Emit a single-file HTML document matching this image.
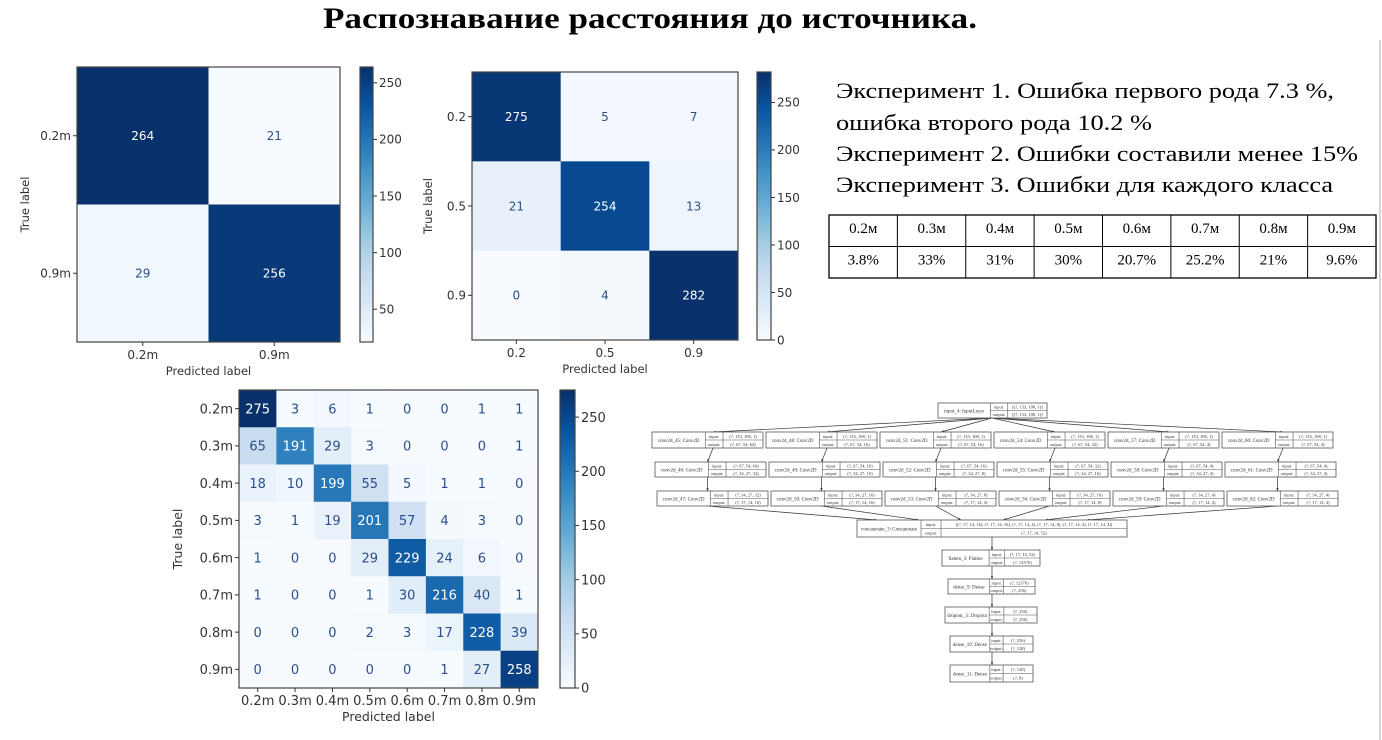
<!DOCTYPE html>
<html><head><meta charset="utf-8">
<style>
html,body{margin:0;padding:0;background:#fff;}
svg{display:block;}
.t{font-family:"Liberation Serif",serif;}
.s{font-family:"DejaVu Sans","Liberation Sans",sans-serif;}
</style></head>
<body>
<svg id="root" width="1382" height="740" viewBox="0 0 1382 740" xmlns="http://www.w3.org/2000/svg">
<text class="t" x="323" y="28" font-size="30" font-weight="bold" textLength="654" lengthAdjust="spacingAndGlyphs">Распознавание расстояния до источника.</text>
<line x1="1380" y1="40" x2="1380" y2="740" stroke="#c8c8c8" stroke-width="1.5"/>
<g class="t" font-size="22" fill="#000">
<text x="836" y="98" textLength="498" lengthAdjust="spacingAndGlyphs">Эксперимент 1. Ошибка первого рода 7.3 %,</text>
<text x="836" y="130" textLength="316" lengthAdjust="spacingAndGlyphs">ошибка второго рода 10.2 %</text>
<text x="836" y="161" textLength="522" lengthAdjust="spacingAndGlyphs">Эксперимент 2. Ошибки составили менее 15%</text>
<text x="836" y="192" textLength="497" lengthAdjust="spacingAndGlyphs">Эксперимент 3. Ошибки для каждого класса</text>
</g>
<g id="tbl"></g>
<g id="cm1"></g>
<g id="cm2"></g>
<g id="cm3"></g>
<g id="net"></g>
</svg>
<script>
const NS="http://www.w3.org/2000/svg";
const tableHeaders=["0.2м","0.3м","0.4м","0.5м","0.6м","0.7м","0.8м","0.9м"];
const tableValues=["3.8%","33%","31%","30%","20.7%","25.2%","21%","9.6%"];
const cm1Labels=["0.2m","0.9m"];
const cm1Values=[[264,21],[29,256]];
const cm1Ticks=[50,100,150,200,250];
const cm2Labels=["0.2","0.5","0.9"];
const cm2Values=[[275,5,7],[21,254,13],[0,4,282]];
const cm2Ticks=[0,50,100,150,200,250];
const cm3Labels=["0.2m","0.3m","0.4m","0.5m","0.6m","0.7m","0.8m","0.9m"];
const cm3Values=[
[275,3,6,1,0,0,1,1],
[65,191,29,3,0,0,0,1],
[18,10,199,55,5,1,1,0],
[3,1,19,201,57,4,3,0],
[1,0,0,29,229,24,6,0],
[1,0,0,1,30,216,40,1],
[0,0,0,2,3,17,228,39],
[0,0,0,0,0,1,27,258]];
const cm3Ticks=[0,50,100,150,200,250];

function el(tag,attrs,parent,txt){const e=document.createElementNS(NS,tag);for(const k in attrs)e.setAttribute(k,attrs[k]);if(txt!==undefined)e.textContent=txt;parent.appendChild(e);return e;}
const stops=[[247,251,255],[222,235,247],[198,219,239],[158,202,225],[107,174,214],[66,146,198],[33,113,181],[8,81,156],[8,48,107]];
function blues(t){t=Math.max(0,Math.min(1,t));const p=t*8,i=Math.min(7,Math.floor(p)),f=p-i;const a=stops[i],b=stops[i+1];return `rgb(${a.map((v,k)=>Math.round(v+(b[k]-v)*f)).join(",")})`;}

// table
(function(){
  const g=document.getElementById('tbl');
  const x0=829,y0=215,w=547,rh=31.5,cw=w/8;
  const r=el('rect',{x:x0,y:y0,width:w,height:rh*2,fill:'#fff',stroke:'#000','stroke-width':1.3},g);
  
  const hl=el('line',{x1:x0,y1:y0+rh,x2:x0+w,y2:y0+rh,stroke:'#000'},g);
  
  for(let i=0;i<8;i++){
    if(i>0){const l=el('line',{x1:x0+i*cw,y1:y0,x2:x0+i*cw,y2:y0+rh*2,stroke:'#000'},g);
      }
    const h=el('text',{x:x0+i*cw+cw/2,y:y0+18,'text-anchor':'middle','font-size':15,class:'t'},g,tableHeaders[i]);
    
    const v=el('text',{x:x0+i*cw+cw/2,y:y0+rh+18,'text-anchor':'middle','font-size':15,class:'t'},g,tableValues[i]);
    
  }
})();

function drawCM(id,labels,vals,ticks,box,cb,fs){
  const g=document.getElementById(id);
  const n=labels.length;
  const flat=vals.flat();const mn=Math.min(...flat),mx=Math.max(...flat);
  const cw=(box.x1-box.x0)/n,ch=(box.y1-box.y0)/n;
  const xs=i=>box.x0+i*cw, ys=i=>box.y0+i*ch;
  for(let r=0;r<n;r++)for(let c=0;c<n;c++){
    const v=vals[r][c];
    const cell=el('rect',{x:xs(c),y:ys(r),width:cw+0.5,height:ch+0.5,fill:blues((v-mn)/(mx-mn))},g);
    
    const tx=el('text',{x:xs(c)+cw/2,y:ys(r)+ch/2+fs*0.36,'text-anchor':'middle','font-size':fs,class:'s',fill:v>(mn+mx)/2?'#fff':'#2b4f8a'},g,String(v));
    
  }
  const fr=el('rect',{x:box.x0,y:box.y0,width:box.x1-box.x0,height:box.y1-box.y0,fill:'none',stroke:'#444','stroke-width':1.2},g);
  
  for(let i=0;i<n;i++){
    const cx=xs(i)+cw/2,cy=ys(i)+ch/2;
    el('line',{x1:cx,y1:box.y1,x2:cx,y2:box.y1+4,stroke:'#333'},g);
    const xl=el('text',{x:cx,y:box.y1+17,'text-anchor':'middle','font-size':fs,class:'s',fill:'#333'},g,labels[i]);
    
    el('line',{x1:box.x0-4,y1:cy,x2:box.x0,y2:cy,stroke:'#333'},g);
    const yl=el('text',{x:box.x0-6,y:cy+fs*0.36,'text-anchor':'end','font-size':fs,class:'s',fill:'#333'},g,labels[i]);
    
  }
  const xt=el('text',{x:(box.x0+box.x1)/2,y:box.y1+33,'text-anchor':'middle','font-size':fs-0.5,class:'s',fill:'#333'},g,'Predicted label');
  
  const yx=box.yt,yy=(box.y0+box.y1)/2;
  const yt=el('text',{x:yx,y:yy,'text-anchor':'middle','font-size':fs-0.5,class:'s',fill:'#333',transform:`rotate(-90 ${yx} ${yy})`},g,'True label');
  
  // colorbar
  const gid=id+'grad';
  const defs=el('defs',{},g);const lg=el('linearGradient',{id:gid,x1:0,y1:1,x2:0,y2:0},defs);
  for(let k=0;k<=8;k++)el('stop',{offset:k/8,'stop-color':blues(k/8)},lg);
  const cbr=el('rect',{x:cb.x0,y:box.y0,width:cb.x1-cb.x0,height:box.y1-box.y0,fill:`url(#${gid})`,stroke:'#444','stroke-width':1.2},g);
  
  const cy=v=>box.y1-(v-mn)/(mx-mn)*(box.y1-box.y0);
  ticks.forEach(t=>{
    el('line',{x1:cb.x1,y1:cy(t),x2:cb.x1+4,y2:cy(t),stroke:'#333'},g);
    const tl=el('text',{x:cb.x1+6,y:cy(t)+fs*0.36,'font-size':fs,class:'s',fill:'#333'},g,String(t));
    
  });
}
drawCM('cm1',cm1Labels,cm1Values,cm1Ticks,{x0:77,x1:340,y0:67,y1:342,yt:29},{x0:360,x1:373},12);
drawCM('cm2',cm2Labels,cm2Values,cm2Ticks,{x0:472,x1:738,y0:72,y1:340,yt:432},{x0:757,x1:771},12);
drawCM('cm3',cm3Labels,cm3Values,cm3Ticks,{x0:239,x1:538,y0:390,y1:688,yt:182},{x0:560,x1:575},13);

// network diagram
(function(){
  const g=document.getElementById('net');
  function box(x,y,w,h,name,inp,out){
    const b=el('g',{},g);
    
    el('rect',{x:x,y:y,width:w,height:h,fill:'#fff',stroke:'#555','stroke-width':0.8},b);
    const nw=w*0.48,lw=w*0.16;
    el('line',{x1:x+nw,y1:y,x2:x+nw,y2:y+h,stroke:'#555','stroke-width':0.6},b);
    el('line',{x1:x+nw+lw,y1:y,x2:x+nw+lw,y2:y+h,stroke:'#555','stroke-width':0.6},b);
    el('line',{x1:x+nw,y1:y+h/2,x2:x+w,y2:y+h/2,stroke:'#555','stroke-width':0.6},b);
    el('text',{x:x+nw/2,y:y+h/2+1.8,'text-anchor':'middle','font-size':5,class:'t',fill:'#333'},b,name);
    el('text',{x:x+nw+lw/2,y:y+h/4+1.8,'text-anchor':'middle','font-size':4.5,class:'t',fill:'#333'},b,'input:');
    el('text',{x:x+nw+lw/2,y:y+3*h/4+1.8,'text-anchor':'middle','font-size':4.5,class:'t',fill:'#333'},b,'output:');
    el('text',{x:x+nw+lw+(w-nw-lw)/2,y:y+h/4+1.8,'text-anchor':'middle','font-size':4.5,class:'t',fill:'#333'},b,inp);
    el('text',{x:x+nw+lw+(w-nw-lw)/2,y:y+3*h/4+1.8,'text-anchor':'middle','font-size':4.5,class:'t',fill:'#333'},b,out);
  }
  function arrow(x1,y1,x2,y2){
    const a=el('line',{x1,y1,x2,y2,stroke:'#333','stroke-width':0.7},g);
    
    const ang=Math.atan2(y2-y1,x2-x1),s=3;
    el('polygon',{points:`${x2},${y2} ${x2-s*Math.cos(ang-0.4)},${y2-s*Math.sin(ang-0.4)} ${x2-s*Math.cos(ang+0.4)},${y2-s*Math.sin(ang+0.4)}`,fill:'#333'},g);
  }
  const filt=[[64,32,16],[16,16,16],[16,8,4],[32,16,8],[4,4,4],[4,4,4]];
  const bx=[652,766,880,994,1108,1222];
  const bw=111;
  const concat={x:857,y:520,w:270,h:17};
  bx.forEach((x,i)=>{
    arrow(992,418,x+bw*0.55,432);
    arrow(x+bw*0.55,448,x+bw*0.5,462);
    arrow(x+bw*0.5,477,x+bw*0.5,491);
    arrow(x+bw*0.5,506,concat.x+20+i*42,520);
  });
  box(938,403,109,15,'input_4: InputLayer','[(?, 133, 108, 1)]','[(?, 133, 108, 1)]');
  let n=45;
  bx.forEach((x,i)=>{
    const f=filt[i];
    box(x,432,bw,16,`conv2d_${n}: Conv2D`,'(?, 133, 108, 1)',`(?, 67, 54, ${f[0]})`);
    box(x+3,462,bw,15,`conv2d_${n+1}: Conv2D`,`(?, 67, 54, ${f[0]})`,`(?, 34, 27, ${f[1]})`);
    box(x+5,491,bw,15,`conv2d_${n+2}: Conv2D`,`(?, 34, 27, ${f[1]})`,`(?, 17, 14, ${f[2]})`);
    n+=3;
  });
  // concat box
  (function(){
    const c=el('g',{},g);
    const {x,y,w,h}=concat;
    el('rect',{x,y,width:w,height:h,fill:'#fff',stroke:'#555','stroke-width':0.8},c);
    el('line',{x1:x+64,y1:y,x2:x+64,y2:y+h,stroke:'#555','stroke-width':0.6},c);
    el('line',{x1:x+84,y1:y,x2:x+84,y2:y+h,stroke:'#555','stroke-width':0.6},c);
    el('line',{x1:x+64,y1:y+h/2,x2:x+w,y2:y+h/2,stroke:'#555','stroke-width':0.6},c);
    el('text',{x:x+32,y:y+h/2+1.8,'text-anchor':'middle','font-size':5,class:'t',fill:'#333'},c,'concatenate_3: Concatenate');
    el('text',{x:x+74,y:y+h/4+1.8,'text-anchor':'middle','font-size':4.5,class:'t',fill:'#333'},c,'input:');
    el('text',{x:x+74,y:y+3*h/4+1.8,'text-anchor':'middle','font-size':4.5,class:'t',fill:'#333'},c,'output:');
    el('text',{x:x+177,y:y+h/4+1.8,'text-anchor':'middle','font-size':4.5,class:'t',fill:'#333'},c,'[(?, 17, 14, 16), (?, 17, 14, 16), (?, 17, 14, 4), (?, 17, 14, 8), (?, 17, 14, 4), (?, 17, 14, 4)]');
    el('text',{x:x+177,y:y+3*h/4+1.8,'text-anchor':'middle','font-size':4.5,class:'t',fill:'#333'},c,'(?, 17, 14, 52)');
  })();
  const cx=992;
  const tail=[[942,550,98,16,'flatten_3: Flatten','(?, 17, 14, 52)','(?, 12376)'],
    [948,579,87,15,'dense_9: Dense','(?, 12376)','(?, 256)'],
    [945,607,92,16,'dropout_3: Dropout','(?, 256)','(?, 256)'],
    [950,636,83,16,'dense_10: Dense','(?, 256)','(?, 128)'],
    [950,665,83,17,'dense_11: Dense','(?, 128)','(?, 8)']];
  let prev=537;
  tail.forEach(t=>{arrow(cx,prev,cx,t[1]);box(...t);prev=t[1]+t[3];});
})();
</script>
</body></html>
